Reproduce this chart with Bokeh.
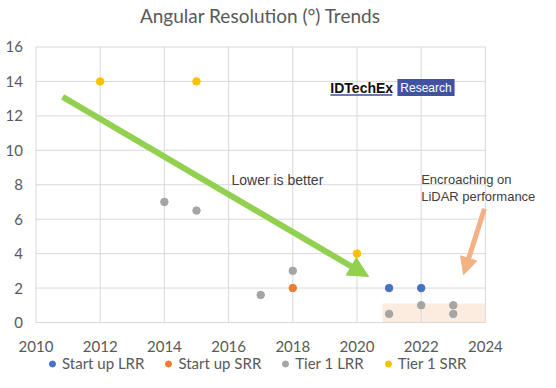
from bokeh.plotting import figure
from bokeh.models import (Range1d, FixedTicker, Legend, LegendItem, Arrow, NormalHead,
                          Label, BoxAnnotation)
from bokeh.core.properties import value
from bokeh.embed import file_html
from bokeh.resources import INLINE

# ---- data ----
startup_lrr_year = [2021, 2022]
startup_lrr_val = [2, 2]
startup_srr_year = [2018]
startup_srr_val = [2]
tier1_lrr_year = [2014, 2015, 2017, 2018, 2021, 2022, 2023, 2023]
tier1_lrr_val = [7, 6.5, 1.6, 3, 0.5, 1, 1, 0.5]
tier1_srr_year = [2012, 2015, 2020]
tier1_srr_val = [14, 14, 4]

x_ticks = [2010, 2012, 2014, 2016, 2018, 2020, 2022, 2024]
y_ticks = [0, 2, 4, 6, 8, 10, 12, 14, 16]
y_tick_labels = [str(v) for v in y_ticks]

series_names = ["Start up LRR", "Start up SRR", "Tier 1 LRR", "Tier 1 SRR"]
series_colors = ["#4472C4", "#ED7D31", "#A5A5A5", "#FFC000"]

TXT = "#595959"
FONT = "Lato"
ANN = "Liberation Sans"

# frame spans the whole figure: 32.1 px per year, 17.22 px per unit
p = figure(width=540, height=372, output_backend="svg", toolbar_location=None,
           x_range=Range1d(2008.894, 2025.717), y_range=Range1d(-2.904, 18.700),
           min_border_left=0, min_border_right=0, min_border_top=0, min_border_bottom=0)
p.outline_line_color = None
p.background_fill_color = "white"
p.border_fill_color = "white"
p.grid.visible = False
p.yaxis.visible = False

ax = p.xaxis
ax.axis_line_color = None
ax.major_tick_line_color = None
ax.minor_tick_line_color = None
ax.major_label_text_font = FONT
ax.major_label_text_font_size = "15px"
ax.major_label_text_color = TXT
ax.ticker = FixedTicker(ticks=x_ticks)
ax.fixed_location = 0
ax.major_label_standoff = 13

# y tick labels placed with the y scale
p.text(x=[x_ticks[0]] * len(y_ticks), y=y_ticks, text=y_tick_labels, x_offset=-13,
       text_align="right", text_baseline="middle", text_font=value(FONT),
       text_font_size="15px", text_color=TXT)

# grid lines (bounded to the data area)
p.segment(x0=x_ticks, y0=[y_ticks[0]] * len(x_ticks), x1=x_ticks, y1=[y_ticks[-1]] * len(x_ticks),
          line_color="#D9D9D9", line_width=1)
p.segment(x0=[x_ticks[0]] * len(y_ticks), y0=y_ticks, x1=[x_ticks[-1]] * len(y_ticks), y1=y_ticks,
          line_color="#D9D9D9", line_width=1)

# title
p.add_layout(Label(x=2016.99, y=17.83, text="Angular Resolution (°) Trends", text_font=FONT,
                   text_font_size="19px", text_color=TXT, text_align="center",
                   text_baseline="middle"))

# shaded LiDAR region
p.add_layout(BoxAnnotation(left=2020.79, right=2024, bottom=0, top=1.1,
                           fill_color="#FBE5D6", fill_alpha=0.75, line_color=None,
                           level="underlay"))

rs = []
for xs, ys, c in [(startup_lrr_year, startup_lrr_val, series_colors[0]),
                  (startup_srr_year, startup_srr_val, series_colors[1]),
                  (tier1_lrr_year, tier1_lrr_val, series_colors[2]),
                  (tier1_srr_year, tier1_srr_val, series_colors[3])]:
    r = p.scatter(xs, ys, size=7.5, fill_color=c, line_color=c)
    rs.append(r)

# arrows
p.add_layout(Arrow(x_start=2010.83, y_start=13.1, x_end=2020.36, y_end=2.67,
                   line_color="#92D050", line_width=6,
                   end=NormalHead(size=20, fill_color="#92D050", line_color="#92D050")))
p.add_layout(Arrow(x_start=2023.97, y_start=6.6, x_end=2023.32, y_end=2.78,
                   line_color="#F4B183", line_width=5,
                   end=NormalHead(size=17, fill_color="#F4B183", line_color="#F4B183")))

p.add_layout(Label(x=2016.09, y=8.29, text="Lower is better", text_font=ANN,
                   text_font_size="14px", text_color="#404040", text_baseline="middle"))
p.add_layout(Label(x=2022.0, y=8.29, text="Encroaching on", text_font=ANN,
                   text_font_size="13px", text_color="#404040", text_baseline="middle"))
p.add_layout(Label(x=2022.0, y=7.30, text="LiDAR performance", text_font=ANN,
                   text_font_size="13px", text_color="#404040", text_baseline="middle"))

# IDTechEx logo
p.add_layout(Label(x=2019.17, y=13.62, text="IDTechEx", text_font=ANN, text_font_style="bold",
                   text_font_size="14px", text_color="#111111", text_baseline="middle"))
p.add_layout(BoxAnnotation(left=2019.17, right=2021.1, bottom=13.17, top=13.26,
                           fill_color="#3B4FA0", fill_alpha=1, line_color=None))
p.add_layout(BoxAnnotation(left=2021.26, right=2023.04, bottom=13.16, top=14.14,
                           fill_color="#4152A3", fill_alpha=1, line_color=None))
p.add_layout(Label(x=2022.15, y=13.62, text="Research", text_font=ANN,
                   text_font_size="12px", text_color="white", text_baseline="middle",
                   text_align="center"))

legend = Legend(items=[LegendItem(label=n, renderers=[r]) for n, r in zip(series_names, rs)],
                orientation="horizontal", location=(44, 0))
legend.label_text_font = FONT
legend.label_text_font_size = "15px"
legend.label_text_color = TXT
legend.glyph_width = 16
legend.glyph_height = 15
legend.label_height = 14
legend.label_standoff = 2
legend.spacing = 16
legend.padding = 0
legend.margin = 0
legend.border_line_color = None
legend.background_fill_alpha = 0
p.add_layout(legend, "center")

open("out.html", "w").write(file_html(p, INLINE))
